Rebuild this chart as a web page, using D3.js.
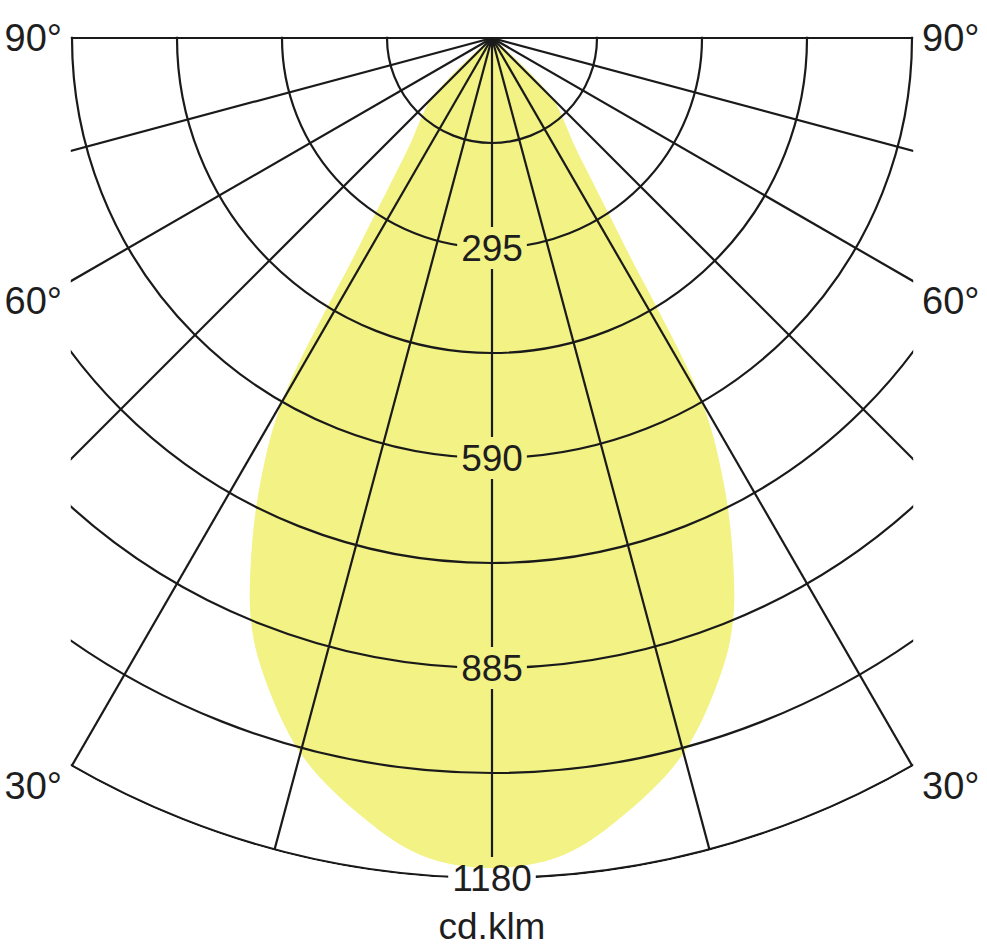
<!DOCTYPE html>
<html>
<head>
<meta charset="utf-8">
<script src="https://cdn.jsdelivr.net/npm/d3@7/dist/d3.min.js"></script>
<style>
  html, body { margin: 0; padding: 0; background: #fff; }
  svg { display: block; }
  text { font-family: "Liberation Sans", Arial, Helvetica, sans-serif; fill: #1e1e1e; }
</style>
</head>
<body>
<script>
// ---- data ----
const gammaAngles = [0, 5, 10, 15, 20, 22.5, 25, 27.5, 30, 32.5, 35, 37.5, 40, 42.5, 45, 47.5, 50, 55, 60, 70, 90];
const intensity   = [1166, 1152, 1103, 1040, 945, 885, 800, 705, 590, 350, 245, 190, 163, 142, 122, 70, 25, 6, 2, 0, 0];
const ringLabels  = [295, 590, 885, 1180];
const angleLabels = [90, 60, 30];
const gridAngles  = [-90, -75, -60, -45, -30, -15, 0, 15, 30, 45, 60, 75, 90];
const maxValue = 1180;
const ringStep = 147.5;
const unitLabel = "cd.klm";

// ---- layout ----
const W = 987, H = 948;
const cx = 492, cy = 38, R = 840;
const halfW = 420;
const fs = 37;
const pad = 1.2; // half stroke so the frame lines are not cut in half

const r = d3.scaleLinear().domain([0, maxValue]).range([0, R]);
const rad = d => d * Math.PI / 180;

const svg = d3.select("body").append("svg").attr("width", W).attr("height", H);
svg.append("rect").attr("width", W).attr("height", H).attr("fill", "#fff");
const defs = svg.append("defs");

// clip region: |dx| <= halfW, radius <= R, below the center
const Rc = R + pad, Wc = halfW + pad;
const yCorner = Math.sqrt(Rc * Rc - Wc * Wc);
const cp = d3.path();
cp.moveTo(-Wc, -pad);
cp.lineTo(Wc, -pad);
cp.lineTo(Wc, yCorner);
cp.arc(0, 0, Rc, Math.atan2(yCorner, Wc), Math.atan2(yCorner, -Wc), false);
cp.closePath();
defs.append("clipPath").attr("id", "frame")
  .append("path").attr("d", cp.toString());

const g = svg.append("g").attr("transform", `translate(${cx},${cy})`);

// ---- light distribution fill ----
const pts = [];
for (let i = gammaAngles.length - 1; i >= 0; i--) pts.push([-gammaAngles[i], intensity[i]]);
for (let i = 1; i < gammaAngles.length; i++) pts.push([gammaAngles[i], intensity[i]]);
const curve = d3.lineRadial()
  .angle(d => Math.PI - rad(d[0]))
  .radius(d => r(d[1]))
  .curve(d3.curveCatmullRom.alpha(0.5));
g.append("path")
  .attr("d", curve(pts) + "Z")
  .attr("fill", "#f2f285")
  .attr("clip-path", "url(#frame)");

// ---- labels (measured first to build a mask) ----
const labelG = g.append("g");
const boxes = [];
ringLabels.forEach(v => {
  const t = labelG.append("text")
    .attr("x", 0).attr("y", r(v))
    .attr("text-anchor", "middle")
    .attr("dominant-baseline", "central")
    .attr("font-size", fs)
    .text(v);
  const bb = t.node().getBBox();
  boxes.push({x: bb.x - 4, y: r(v) - 21, w: bb.width + 8, h: 42});
});

const mask = defs.append("mask").attr("id", "labelMask")
  .attr("maskUnits", "userSpaceOnUse")
  .attr("x", -cx).attr("y", -cy).attr("width", W).attr("height", H);
mask.append("rect").attr("x", -cx).attr("y", -cy).attr("width", W).attr("height", H).attr("fill", "#fff");
boxes.forEach(b => mask.append("rect").attr("x", b.x).attr("y", b.y).attr("width", b.w).attr("height", b.h).attr("fill", "#000"));

// ---- grid ----
const grid = g.append("g").attr("clip-path", "url(#frame)")
  .append("g").attr("mask", "url(#labelMask)")
  .attr("fill", "none").attr("stroke", "#1a1a1a").attr("stroke-width", 2.2);

const rings = d3.range(ringStep, maxValue + 0.01, ringStep);
grid.selectAll("circle").data(rings).join("circle")
  .attr("cx", 0).attr("cy", 0).attr("r", d => r(d));

grid.selectAll("line").data(gridAngles).join("line")
  .attr("x1", 0).attr("y1", 0)
  .attr("x2", d => R * Math.sin(rad(d)))
  .attr("y2", d => R * Math.cos(rad(d)));

labelG.raise();

// ---- angle labels ----
const yC = Math.sqrt(R * R - halfW * halfW);
angleLabels.forEach(a => {
  const yEdge = a === 90 ? 0 : Math.min(halfW / Math.tan(rad(a)), yC) + 21;
  g.append("text").attr("x", -halfW - 10).attr("y", yEdge)
    .attr("text-anchor", "end").attr("dominant-baseline", "central")
    .attr("font-size", fs + 1).text(a + "°");
  g.append("text").attr("x", halfW + 10).attr("y", yEdge)
    .attr("text-anchor", "start").attr("dominant-baseline", "central")
    .attr("font-size", fs + 1).text(a + "°");
});

// ---- unit ----
svg.append("text").attr("x", cx).attr("y", 939)
  .attr("text-anchor", "middle").attr("font-size", fs).text(unitLabel);
</script>
</body>
</html>
